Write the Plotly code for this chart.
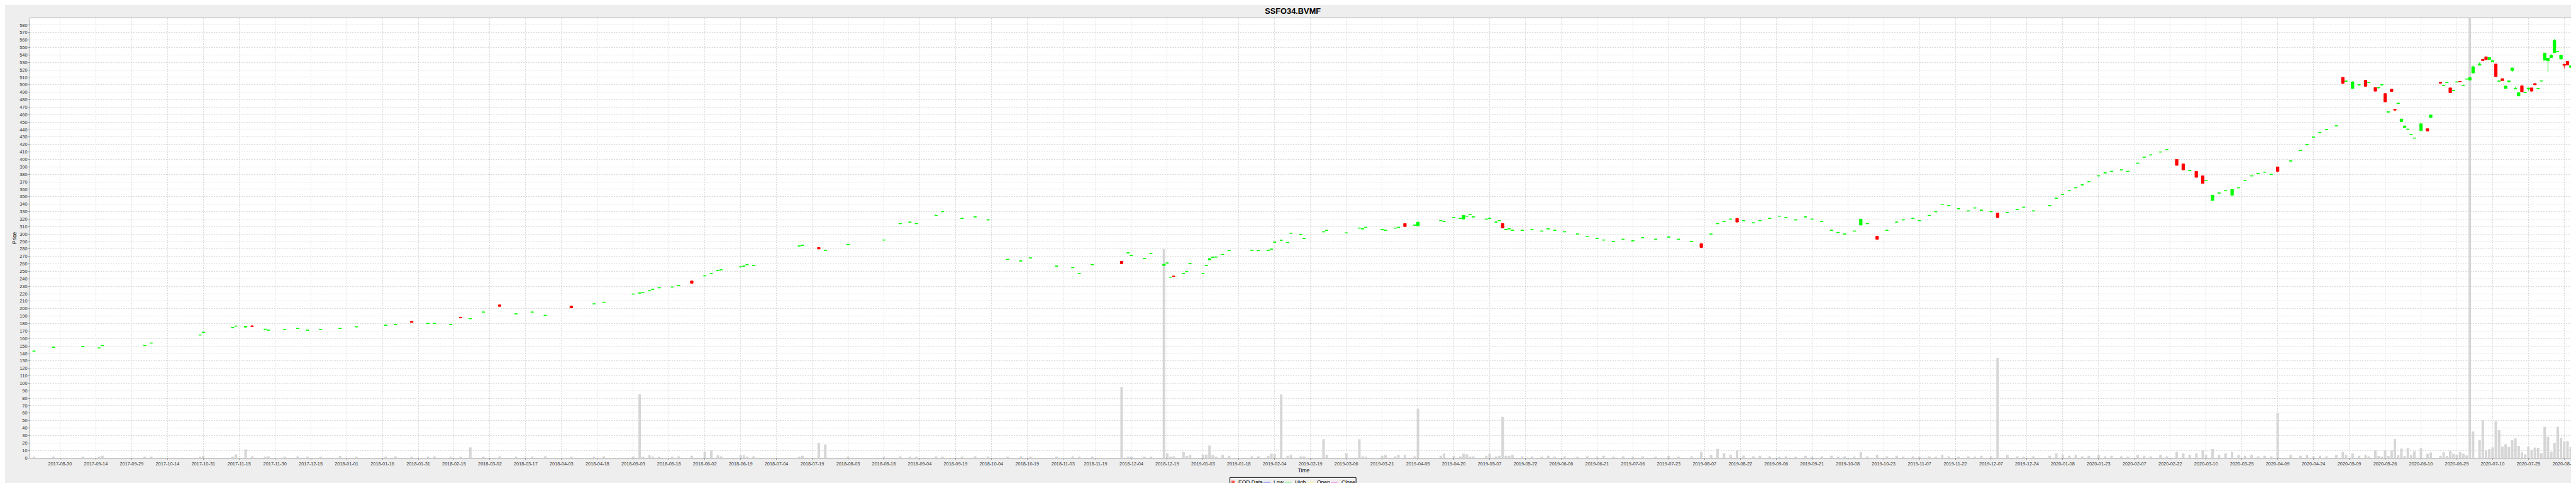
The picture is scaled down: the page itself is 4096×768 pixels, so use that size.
import numpy as np
import plotly.graph_objects as go

BASE = "2017-08-30"

# ---------------- EOD data (one row per trading day) ----------------
dates = [
    "2017-08-18", "2017-08-28", "2017-09-08", "2017-09-15", "2017-09-18", "2017-10-05", "2017-10-09",
    "2017-10-30", "2017-10-31", "2017-11-13", "2017-11-14", "2017-11-17", "2017-11-21", "2017-11-27",
    "2017-11-28", "2017-12-05", "2017-12-11", "2017-12-14", "2017-12-20", "2017-12-28", "2018-01-04",
    "2018-01-17", "2018-01-22", "2018-01-29", "2018-02-05", "2018-02-07", "2018-02-14", "2018-02-19",
    "2018-02-22", "2018-02-28", "2018-03-07", "2018-03-14", "2018-03-21", "2018-03-27", "2018-04-06",
    "2018-04-17", "2018-04-20", "2018-05-03", "2018-05-07", "2018-05-08", "2018-05-10", "2018-05-11",
    "2018-05-15", "2018-05-21", "2018-05-23", "2018-05-29", "2018-06-04", "2018-06-06", "2018-06-08",
    "2018-06-11", "2018-06-19", "2018-06-20", "2018-06-21", "2018-06-25", "2018-07-13", "2018-07-16",
    "2018-07-23", "2018-07-25", "2018-08-03", "2018-08-20", "2018-08-27", "2018-08-30", "2018-09-03",
    "2018-09-11", "2018-09-13", "2018-09-21", "2018-09-27", "2018-10-03", "2018-10-11", "2018-10-17",
    "2018-10-22", "2018-11-01", "2018-11-08", "2018-11-12", "2018-11-16", "2018-11-29", "2018-12-03",
    "2018-12-04", "2018-12-10", "2018-12-12", "2018-12-18", "2018-12-19", "2018-12-20", "2018-12-21",
    "2018-12-26", "2018-12-27", "2018-12-28", "2019-01-03", "2019-01-04", "2019-01-07", "2019-01-08",
    "2019-01-09", "2019-01-11", "2019-01-15", "2019-01-24", "2019-01-28", "2019-01-31", "2019-02-01",
    "2019-02-04", "2019-02-06", "2019-02-08", "2019-02-11", "2019-02-14", "2019-02-15", "2019-02-25",
    "2019-02-26", "2019-03-06", "2019-03-12", "2019-03-13", "2019-03-14", "2019-03-21", "2019-03-22",
    "2019-03-27", "2019-03-28", "2019-04-01", "2019-04-04", "2019-04-05", "2019-04-16", "2019-04-17",
    "2019-04-22", "2019-04-24", "2019-04-25", "2019-04-26", "2019-04-29", "2019-04-30", "2019-05-06",
    "2019-05-07", "2019-05-09", "2019-05-10", "2019-05-13", "2019-05-14", "2019-05-15", "2019-05-16",
    "2019-05-21", "2019-05-24", "2019-05-29", "2019-05-31", "2019-06-04", "2019-06-07", "2019-06-13",
    "2019-06-18", "2019-06-21", "2019-06-25", "2019-06-28", "2019-07-03", "2019-07-08", "2019-07-11",
    "2019-07-17", "2019-07-23", "2019-07-26", "2019-08-01", "2019-08-06", "2019-08-09", "2019-08-13",
    "2019-08-15", "2019-08-19", "2019-08-21", "2019-08-23", "2019-08-28", "2019-08-30", "2019-09-04",
    "2019-09-09", "2019-09-11", "2019-09-16", "2019-09-19", "2019-09-23", "2019-09-26", "2019-10-01",
    "2019-10-03", "2019-10-07", "2019-10-10", "2019-10-14", "2019-10-16", "2019-10-21", "2019-10-24",
    "2019-10-29", "2019-10-31", "2019-11-05", "2019-11-07", "2019-11-12", "2019-11-14", "2019-11-18",
    "2019-11-20", "2019-11-25", "2019-11-28", "2019-12-02", "2019-12-04", "2019-12-09", "2019-12-11",
    "2019-12-16", "2019-12-19", "2019-12-23", "2019-12-26", "2020-01-02", "2020-01-06", "2020-01-08",
    "2020-01-10", "2020-01-14", "2020-01-16", "2020-01-20", "2020-01-23", "2020-01-27", "2020-01-29",
    "2020-02-03", "2020-02-05", "2020-02-10", "2020-02-12", "2020-02-14", "2020-02-19", "2020-02-21",
    "2020-02-26", "2020-02-28", "2020-03-03", "2020-03-05", "2020-03-09", "2020-03-10", "2020-03-12",
    "2020-03-16", "2020-03-18", "2020-03-20", "2020-03-24", "2020-03-26", "2020-03-30", "2020-04-01",
    "2020-04-03", "2020-04-07", "2020-04-09", "2020-04-15", "2020-04-20", "2020-04-22", "2020-04-24",
    "2020-04-28", "2020-04-30", "2020-05-05", "2020-05-07", "2020-05-08", "2020-05-12", "2020-05-14",
    "2020-05-18", "2020-05-19", "2020-05-21", "2020-05-22", "2020-05-25", "2020-05-26", "2020-05-27",
    "2020-05-28", "2020-05-29", "2020-06-01", "2020-06-02", "2020-06-03", "2020-06-04", "2020-06-05",
    "2020-06-08", "2020-06-10", "2020-06-12", "2020-06-15", "2020-06-18", "2020-06-19", "2020-06-22",
    "2020-06-23", "2020-06-24", "2020-06-25", "2020-06-26", "2020-06-29", "2020-06-30", "2020-07-01",
    "2020-07-02", "2020-07-06", "2020-07-07", "2020-07-08", "2020-07-09", "2020-07-10", "2020-07-13",
    "2020-07-14", "2020-07-15", "2020-07-16", "2020-07-17", "2020-07-20", "2020-07-21", "2020-07-22",
    "2020-07-23", "2020-07-24", "2020-07-27", "2020-07-28", "2020-07-29", "2020-07-30", "2020-07-31",
    "2020-08-03", "2020-08-04", "2020-08-05", "2020-08-06", "2020-08-07", "2020-08-10", "2020-08-11",
    "2020-08-12", "2020-08-13",
]
opens = [
    142.8, 148.0, 149.0, 147.0, 150.2, 150.2, 153.6, 164.4, 168.0, 174.3, 176.3, 175.2, 177.0, 172.1,
    171.0, 172.0, 173.1, 170.9, 172.0, 173.1, 175.3, 177.5, 178.6, 183.0, 179.7, 179.8, 178.6, 188.5,
    186.3, 195.1, 205.0, 192.7, 195.1, 190.7, 203.5, 206.1, 208.3, 219.3, 220.7, 221.7, 223.7, 225.7,
    227.7, 228.7, 230.7, 237.0, 243.7, 246.7, 250.7, 251.7, 255.7, 256.7, 258.7, 257.7, 283.7, 284.7,
    282.0, 277.7, 285.7, 291.7, 313.7, 315.7, 313.7, 324.7, 329.7, 320.7, 322.7, 318.7, 265.7, 263.7,
    267.7, 256.7, 254.7, 247.0, 258.7, 263.5, 274.6, 271.1, 267.1, 273.5, 257.8, 261.0, 242.0, 243.7,
    247.0, 249.6, 260.2, 246.6, 257.8, 265.3, 268.6, 268.9, 272.5, 277.5, 278.1, 277.5, 277.9, 279.5,
    288.9, 291.5, 288.5, 300.9, 298.9, 293.7, 302.7, 304.7, 301.3, 307.7, 306.7, 308.7, 305.7, 304.7,
    307.7, 308.7, 314.0, 311.7, 311.0, 317.7, 316.7, 321.7, 320.7, 320.0, 323.7, 325.7, 322.7, 319.7,
    320.7, 315.7, 317.7, 314.0, 305.7, 306.7, 304.7, 304.7, 305.7, 303.7, 306.7, 304.7, 302.7, 299.7,
    296.7, 293.7, 291.7, 289.7, 292.7, 290.7, 294.7, 292.7, 295.7, 292.7, 289.7, 287.0, 299.7, 313.7,
    316.7, 319.7, 321.0, 317.7, 314.7, 317.7, 320.7, 323.7, 321.7, 318.7, 322.7, 319.7, 316.7, 304.7,
    301.7, 299.7, 303.7, 312.0, 313.7, 297.0, 304.7, 315.7, 318.7, 320.7, 317.7, 324.7, 329.7, 339.7,
    337.7, 333.7, 330.7, 334.7, 331.7, 329.7, 328.0, 328.7, 332.7, 335.7, 330.7, 337.7, 347.7, 352.7,
    357.7, 361.7, 365.7, 369.7, 377.7, 381.7, 383.7, 385.7, 383.7, 394.7, 402.7, 405.7, 409.7, 412.7,
    400.0, 394.0, 384.7, 384.0, 378.0, 371.7, 345.0, 354.7, 357.7, 352.0, 361.7, 371.7, 377.7, 380.7,
    382.7, 379.7, 390.0, 397.7, 411.7, 419.7, 429.7, 435.7, 439.7, 444.7, 510.0, 504.7, 495.0, 499.7,
    506.0, 502.7, 496.4, 495.7, 499.7, 488.2, 463.2, 494.2, 467.1, 474.7, 450.7, 442.7, 440.2, 433.2,
    428.3, 438.5, 441.1, 456.1, 503.4, 498.7, 502.7, 495.8, 492.1, 503.5, 504.6, 499.1, 507.5, 506.4,
    515.8, 526.2, 534.1, 537.5, 533.7, 530.9, 527.8, 504.7, 508.2, 495.0, 503.9, 519.0, 494.3, 485.0,
    498.8, 489.3, 494.4, 495.8, 501.6, 494.7, 504.9, 532.9, 532.2, 536.5, 543.0, 544.2, 534.5, 527.6,
    531.4, 523.4,
]
highs = [
    143.4, 148.6, 149.6, 147.6, 150.8, 150.8, 154.2, 165.0, 168.6, 174.9, 176.9, 176.4, 177.2, 172.7,
    171.6, 172.6, 173.7, 171.5, 172.6, 173.7, 175.9, 178.1, 179.2, 183.3, 180.3, 180.4, 179.2, 188.8,
    186.9, 195.7, 205.3, 193.3, 195.7, 191.3, 203.8, 206.7, 208.9, 219.9, 221.3, 222.3, 224.3, 226.3,
    228.3, 229.3, 231.3, 237.3, 244.3, 247.3, 251.3, 252.3, 256.3, 257.3, 259.3, 258.3, 284.3, 285.3,
    282.3, 278.3, 286.3, 292.3, 314.3, 316.3, 314.3, 325.3, 330.3, 321.3, 323.3, 319.3, 266.3, 264.3,
    268.3, 257.3, 255.3, 247.6, 259.3, 263.8, 275.2, 271.7, 267.7, 274.1, 259.8, 261.6, 242.6, 244.0,
    247.6, 250.2, 260.8, 247.2, 258.4, 267.4, 269.2, 269.5, 273.1, 278.1, 278.7, 278.1, 278.5, 280.1,
    289.5, 292.1, 289.1, 301.5, 299.5, 294.3, 303.3, 305.3, 301.9, 308.3, 307.3, 309.3, 306.3, 305.3,
    308.3, 309.3, 314.3, 312.3, 316.3, 318.3, 317.3, 322.3, 321.3, 325.3, 324.3, 326.3, 323.3, 320.3,
    321.3, 316.3, 318.3, 314.3, 306.3, 307.3, 305.3, 305.3, 306.3, 304.3, 307.3, 305.3, 303.3, 300.3,
    297.3, 294.3, 292.3, 290.3, 293.3, 291.3, 295.3, 293.3, 296.3, 293.3, 290.3, 287.3, 300.3, 314.3,
    317.3, 320.3, 321.3, 318.3, 315.3, 318.3, 321.3, 324.3, 322.3, 319.3, 323.3, 320.3, 317.3, 305.3,
    302.3, 300.3, 304.3, 320.3, 314.3, 297.3, 305.3, 316.3, 319.3, 321.3, 318.3, 325.3, 330.3, 340.3,
    338.3, 334.3, 331.3, 335.3, 332.3, 330.3, 328.3, 329.3, 333.3, 336.3, 331.3, 338.3, 348.3, 353.3,
    358.3, 362.3, 366.3, 370.3, 378.3, 382.3, 384.3, 386.3, 384.3, 395.3, 403.3, 406.3, 410.3, 413.3,
    400.3, 394.3, 385.3, 384.3, 378.3, 372.3, 352.3, 355.3, 358.3, 360.3, 362.3, 372.3, 378.3, 381.3,
    383.3, 380.3, 390.3, 398.3, 412.3, 420.3, 430.3, 436.3, 440.3, 445.3, 510.3, 505.3, 504.3, 500.3,
    506.3, 503.3, 496.6, 496.5, 500.5, 488.4, 464.0, 494.4, 467.3, 475.5, 454.3, 444.9, 440.8, 433.8,
    428.9, 447.9, 441.3, 459.7, 503.6, 499.5, 503.5, 496.0, 492.7, 504.1, 504.8, 499.7, 508.1, 510.4,
    526.0, 530.0, 534.3, 537.7, 536.7, 532.7, 528.0, 505.3, 508.4, 498.6, 505.5, 522.8, 497.6, 489.8,
    499.0, 489.9, 495.8, 496.0, 501.8, 495.3, 505.5, 542.7, 536.5, 541.0, 561.5, 544.8, 540.1, 527.8,
    531.6, 525.6,
]
lows = [
    142.6, 147.8, 148.8, 146.8, 150.0, 150.0, 153.4, 164.2, 167.8, 174.1, 176.1, 175.0, 175.9, 171.9,
    170.8, 171.8, 172.9, 170.7, 171.8, 172.9, 175.1, 177.3, 178.4, 181.2, 179.5, 179.6, 178.4, 187.2,
    186.1, 194.9, 202.7, 192.5, 194.9, 190.5, 200.7, 205.9, 208.1, 219.1, 220.5, 221.5, 223.5, 225.5,
    227.5, 228.5, 230.5, 233.7, 243.5, 246.5, 250.5, 251.5, 255.5, 256.5, 258.5, 257.5, 283.5, 284.5,
    279.7, 277.5, 285.5, 291.5, 313.5, 315.5, 313.5, 324.5, 329.5, 320.5, 322.5, 318.5, 265.5, 263.5,
    267.5, 256.5, 254.5, 246.8, 258.5, 260.0, 274.4, 270.9, 266.9, 273.3, 257.6, 260.8, 241.8, 242.9,
    246.8, 249.4, 260.0, 246.4, 257.6, 265.1, 268.4, 268.7, 272.3, 277.3, 277.9, 277.3, 277.7, 279.3,
    288.7, 291.3, 288.3, 300.7, 298.7, 293.5, 302.5, 304.5, 301.1, 307.5, 306.5, 308.5, 305.5, 304.5,
    307.5, 308.5, 309.7, 311.5, 310.8, 317.5, 316.5, 321.5, 320.5, 319.8, 323.5, 325.5, 322.5, 319.5,
    320.5, 315.5, 317.5, 307.7, 305.5, 306.5, 304.5, 304.5, 305.5, 303.5, 306.5, 304.5, 302.5, 299.5,
    296.5, 293.5, 291.5, 289.5, 292.5, 290.5, 294.5, 292.5, 295.5, 292.5, 289.5, 281.7, 299.5, 313.5,
    316.5, 319.5, 315.7, 317.5, 314.5, 317.5, 320.5, 323.5, 321.5, 318.5, 322.5, 319.5, 316.5, 304.5,
    301.5, 299.5, 303.5, 311.8, 313.5, 292.7, 304.5, 315.5, 318.5, 320.5, 317.5, 324.5, 329.5, 339.5,
    337.5, 333.5, 330.5, 334.5, 331.5, 329.5, 321.7, 328.5, 332.5, 335.5, 330.5, 337.5, 347.5, 352.5,
    357.5, 361.5, 365.5, 369.5, 377.5, 381.5, 383.5, 385.5, 383.5, 394.5, 402.5, 405.5, 409.5, 412.5,
    391.7, 385.7, 384.5, 375.7, 367.7, 371.5, 344.8, 354.5, 357.5, 351.8, 361.5, 371.5, 377.5, 380.5,
    382.5, 379.5, 383.7, 397.5, 411.5, 419.5, 429.5, 435.5, 439.5, 444.5, 501.7, 504.5, 494.8, 499.5,
    497.7, 502.5, 491.2, 495.5, 499.5, 476.9, 463.0, 490.8, 464.7, 474.5, 450.5, 442.5, 440.0, 433.0,
    428.1, 438.3, 437.9, 455.9, 502.0, 498.5, 502.5, 489.2, 491.9, 503.3, 504.0, 498.9, 507.3, 505.8,
    515.6, 526.0, 532.3, 533.5, 533.5, 530.7, 510.8, 504.5, 505.4, 494.8, 503.7, 517.0, 494.1, 484.8,
    490.4, 489.1, 492.0, 491.2, 499.8, 494.5, 504.7, 532.7, 517.0, 536.3, 542.8, 544.0, 534.3, 522.0,
    526.4, 523.2,
]
closes = [
    143.2, 148.4, 149.4, 147.4, 150.6, 150.6, 154.0, 164.8, 168.4, 174.7, 176.7, 176.2, 176.1, 172.5,
    171.4, 172.4, 173.5, 171.3, 172.4, 173.5, 175.7, 177.9, 179.0, 181.5, 180.1, 180.2, 179.0, 187.5,
    186.7, 195.5, 203.0, 193.1, 195.5, 191.1, 201.0, 206.5, 208.7, 219.7, 221.1, 222.1, 224.1, 226.1,
    228.1, 229.1, 231.1, 234.0, 244.1, 247.1, 251.1, 252.1, 256.1, 257.1, 259.1, 258.1, 284.1, 285.1,
    280.0, 278.1, 286.1, 292.1, 314.1, 316.1, 314.1, 325.1, 330.1, 321.1, 323.1, 319.1, 266.1, 264.1,
    268.1, 257.1, 255.1, 247.4, 259.1, 260.2, 274.9, 271.4, 267.4, 273.8, 259.5, 261.3, 242.3, 243.1,
    247.3, 249.9, 260.5, 246.9, 258.1, 267.1, 268.9, 269.2, 272.8, 277.8, 278.4, 277.8, 278.2, 279.8,
    289.2, 291.8, 288.8, 301.2, 299.2, 294.0, 303.0, 305.0, 301.6, 308.1, 307.1, 309.1, 306.1, 305.1,
    308.1, 309.1, 310.0, 312.1, 316.0, 318.1, 317.1, 322.1, 321.1, 325.0, 324.1, 326.1, 323.1, 320.1,
    321.1, 316.1, 318.1, 308.0, 306.1, 307.1, 305.1, 305.1, 306.1, 304.1, 307.1, 305.1, 303.1, 300.1,
    297.1, 294.1, 292.1, 290.1, 293.1, 291.1, 295.1, 293.1, 296.1, 293.1, 290.1, 282.0, 300.1, 314.1,
    317.1, 320.1, 316.0, 318.1, 315.1, 318.1, 321.1, 324.1, 322.1, 319.1, 323.1, 320.1, 317.1, 305.1,
    302.1, 300.1, 304.1, 320.0, 314.1, 293.0, 305.1, 316.1, 319.1, 321.1, 318.1, 325.1, 330.1, 340.1,
    338.1, 334.1, 331.1, 335.1, 332.1, 330.1, 322.0, 329.1, 333.1, 336.1, 331.1, 338.1, 348.1, 353.1,
    358.1, 362.1, 366.1, 370.1, 378.1, 382.1, 384.1, 386.1, 384.1, 395.1, 403.1, 406.1, 410.1, 413.1,
    392.0, 386.0, 385.1, 376.0, 368.0, 372.1, 352.0, 355.1, 358.1, 360.0, 362.1, 372.1, 378.1, 381.1,
    383.1, 380.1, 384.0, 398.1, 412.1, 420.1, 430.1, 436.1, 440.1, 445.1, 502.0, 505.1, 504.0, 500.1,
    498.0, 503.1, 491.4, 496.3, 500.3, 477.1, 463.8, 491.0, 466.1, 475.3, 454.1, 444.9, 440.6, 433.6,
    428.7, 447.7, 438.1, 459.5, 502.2, 499.3, 503.3, 489.4, 492.5, 503.9, 504.2, 499.5, 507.9, 509.8,
    524.2, 527.8, 532.5, 533.7, 536.5, 532.5, 511.0, 505.1, 505.6, 498.4, 505.3, 522.6, 494.9, 489.6,
    490.6, 489.7, 495.6, 491.4, 500.0, 495.1, 505.3, 542.5, 535.7, 539.7, 559.3, 544.6, 539.9, 526.0,
    526.6, 525.4,
]
volumes = [
    1.2, 1.2, 1.2, 1.2, 2.8, 1.2, 1.2, 1.2, 2.8, 1.2, 4.6, 11.4, 2.0, 1.2,
    2.0, 1.2, 2.0, 1.2, 1.2, 2.4, 1.2, 1.2, 2.0, 1.2, 1.2, 2.0, 1.2, 1.2,
    14.0, 1.2, 2.0, 1.2, 1.2, 2.0, 1.2, 1.2, 2.0, 1.2, 85.0, 1.0, 3.6, 1.2,
    1.0, 1.0, 2.0, 2.8, 8.0, 10.0, 3.6, 2.0, 3.6, 3.6, 1.6, 2.0, 1.0, 2.8,
    20.0, 18.0, 1.0, 1.2, 2.0, 1.2, 1.2, 2.0, 1.2, 1.2, 2.0, 1.2, 1.2, 2.0,
    1.2, 1.2, 2.0, 1.2, 1.2, 95.0, 1.2, 1.2, 1.2, 1.2, 280.0, 6.0, 1.0, 2.0,
    8.0, 2.6, 4.0, 4.4, 4.4, 16.5, 4.0, 1.2, 4.0, 2.8, 2.0, 2.0, 2.8, 5.6,
    4.8, 85.0, 2.8, 4.0, 2.0, 2.0, 25.0, 4.0, 6.4, 25.0, 2.0, 1.2, 2.8, 4.0,
    2.0, 4.0, 4.0, 2.0, 66.0, 2.8, 5.6, 2.8, 2.0, 5.6, 4.8, 1.2, 2.0, 2.8,
    5.6, 2.0, 2.8, 55.0, 2.8, 2.8, 4.0, 2.0, 2.0, 1.2, 2.8, 1.2, 2.0, 1.2,
    2.0, 1.2, 2.8, 1.2, 2.0, 1.2, 2.0, 1.2, 2.8, 1.2, 2.0, 8.0, 4.0, 12.0,
    6.0, 4.0, 10.0, 3.0, 2.0, 2.8, 2.0, 1.2, 2.0, 1.2, 2.8, 1.2, 2.0, 2.8,
    1.2, 2.0, 1.2, 8.0, 2.0, 4.0, 2.0, 2.8, 1.2, 2.0, 1.2, 2.0, 1.2, 4.0,
    2.0, 1.2, 2.0, 1.2, 2.8, 2.0, 134.0, 4.0, 2.0, 1.2, 2.0, 2.8, 6.0, 4.0,
    2.8, 4.0, 2.0, 2.8, 4.0, 2.0, 2.8, 2.0, 1.2, 4.0, 2.8, 2.0, 4.0, 2.0,
    8.0, 6.0, 4.0, 6.0, 10.0, 4.0, 12.0, 4.0, 6.0, 8.0, 4.0, 2.8, 4.0, 2.0,
    2.8, 2.0, 60.0, 4.0, 2.8, 4.0, 2.0, 2.8, 2.0, 4.0, 8.0, 4.0, 6.0, 2.8,
    4.0, 2.0, 10.0, 2.6, 1.0, 10.0, 2.4, 9.8, 25.1, 3.6, 12.4, 2.4, 13.2, 3.6,
    8.8, 13.2, 5.4, 7.2, 2.8, 7.4, 2.6, 9.2, 5.4, 4.2, 8.0, 5.6, 3.2, 620.0,
    35.3, 23.6, 50.3, 10.4, 11.6, 14.0, 49.1, 37.1, 15.2, 18.2, 14.6, 23.6, 26.3, 16.0,
    7.4, 4.8, 15.0, 10.8, 13.8, 13.4, 6.2, 41.5, 28.1, 8.0, 20.0, 41.5, 27.1, 21.8,
    22.4, 14.4,
]

# ---------------- axis labels ----------------
tick_labels = [
    "2017-08-30", "2017-09-14", "2017-09-29", "2017-10-14", "2017-10-31", "2017-11-15", "2017-11-30",
    "2017-12-15", "2018-01-01", "2018-01-16", "2018-01-31", "2018-02-15", "2018-03-02", "2018-03-17",
    "2018-04-03", "2018-04-18", "2018-05-03", "2018-05-18", "2018-06-02", "2018-06-19", "2018-07-04",
    "2018-07-19", "2018-08-03", "2018-08-18", "2018-09-04", "2018-09-19", "2018-10-04", "2018-10-19",
    "2018-11-03", "2018-11-19", "2018-12-04", "2018-12-19", "2019-01-03", "2019-01-18", "2019-02-04",
    "2019-02-19", "2019-03-06", "2019-03-21", "2019-04-05", "2019-04-20", "2019-05-07", "2019-05-22",
    "2019-06-06", "2019-06-21", "2019-07-06", "2019-07-23", "2019-08-07", "2019-08-22", "2019-09-06",
    "2019-09-21", "2019-10-08", "2019-10-23", "2019-11-07", "2019-11-22", "2019-12-07", "2019-12-24",
    "2020-01-08", "2020-01-23", "2020-02-07", "2020-02-22", "2020-03-10", "2020-03-25", "2020-04-09",
    "2020-04-24", "2020-05-09", "2020-05-26", "2020-06-10", "2020-06-25", "2020-07-10", "2020-07-25",
    "2020-08-11",
]

TITLE = "SSFO34.BVMF"
X_TITLE = "Time"
Y_TITLE = "Price"


def bidx(ds):
    """Position of each date on a Monday-to-Friday time line."""
    return np.busday_count(BASE, np.array(ds, dtype="datetime64[D]")).astype(float)


cx = bidx(dates)
tx = bidx(tick_labels)

# ---------------- layout geometry (reference px * S) ----------------
S = 0.711
W, H = 4096, 768
ML, MR, MT, MB = 40, 6, 21, 48
PW = W - ML - MR
PH = H - MT - MB


def px(xr):
    return (xr * S - ML) / PW


def py(yr):
    return (H - MB - yr * S) / PH


FONT = "Liberation Sans, Arial, Helvetica, sans-serif"

fig = go.Figure()
fig.add_trace(go.Bar(
    x=cx, y=volumes, width=0.78,
    marker=dict(color="#D6D6D6", line=dict(width=0)),
    showlegend=False, hoverinfo="skip", name="Volume",
))
fig.add_trace(go.Candlestick(
    x=cx, open=opens, high=highs, low=lows, close=closes,
    increasing=dict(line=dict(color="#00FF00", width=1), fillcolor="#00FF00"),
    decreasing=dict(line=dict(color="#FF0000", width=1), fillcolor="#FF0000"),
    whiskerwidth=0, showlegend=False, name="EOD Data",
))

grid = dict(showgrid=True, gridcolor="#D9D9D9", gridwidth=1, griddash="2px,2px")
fig.update_layout(
    width=W, height=H, autosize=False,
    margin=dict(l=ML, r=MR, t=MT, b=MB, pad=0),
    paper_bgcolor="#EEEEEE", plot_bgcolor="#FFFFFF",
    boxgap=0.1, boxgroupgap=0.1,
    title=dict(text="<b>" + TITLE + "</b>", x=2880 * S / W, xanchor="center",
               y=1 - 13.3 * S / H, yanchor="middle", yref="container",
               font=dict(family=FONT, size=18 * S, color="#000000")),
    xaxis=dict(
        range=[-9.16, 773.0], tickmode="array", tickvals=tx, ticktext=tick_labels,
        ticks="outside", ticklen=2, tickwidth=1, tickcolor="#999999",
        tickfont=dict(family=FONT, size=10.4 * S, color="#333333"),
        showline=True, linecolor="#A0A0A0", linewidth=1, mirror=True, zeroline=False,
        rangeslider=dict(visible=False),
        title=dict(text=X_TITLE, font=dict(family=FONT, size=12 * S, color="#000000"), standoff=4),
        **grid,
    ),
    yaxis=dict(
        range=[0, 589.2], tick0=0, dtick=10,
        ticks="outside", ticklen=2, tickwidth=1, tickcolor="#999999",
        tickfont=dict(family=FONT, size=10.4 * S, color="#333333"),
        showline=True, linecolor="#A0A0A0", linewidth=1, mirror=True, zeroline=False,
        title=dict(text=Y_TITLE, font=dict(family=FONT, size=12 * S, color="#000000"), standoff=3),
        **grid,
    ),
    showlegend=False,
)

# ---------------- legend (drawn in paper coordinates) ----------------
shapes = [dict(type="rect", xref="paper", yref="paper",
               x0=px(2739.3), x1=px(3021.3), y0=py(1078.3), y1=py(1056.7),
               line=dict(color="#000000", width=1), fillcolor="rgba(0,0,0,0)")]
shapes.append(dict(type="rect", xref="paper", yref="paper",
                   x0=px(2742.7), x1=px(2750.0), y0=py(1071.0), y1=py(1063.7),
                   line=dict(width=0), fillcolor="#FF5555"))
legend_lines = [("Low", "#5555FF", 2814.3, 2830.0, 2834.3),
                ("High", "#55FF55", 2861.7, 2877.3, 2881.7),
                ("Open", "#FFFF55", 2912.7, 2927.7, 2931.7),
                ("Close", "#FF55FF", 2965.0, 2981.0, 2985.7)]
annotations = [dict(text="EOD Data", xref="paper", yref="paper", x=px(2755.3), y=py(1067.3),
                    xanchor="left", yanchor="middle", showarrow=False,
                    font=dict(family=FONT, size=12 * S, color="#000000"))]
for name, col, x0, x1, xt in legend_lines:
    shapes.append(dict(type="line", xref="paper", yref="paper", x0=px(x0), x1=px(x1),
                       y0=py(1067.3), y1=py(1067.3), line=dict(color=col, width=1)))
    annotations.append(dict(text=name, xref="paper", yref="paper", x=px(xt), y=py(1067.3),
                            xanchor="left", yanchor="middle", showarrow=False,
                            font=dict(family=FONT, size=12 * S, color="#000000")))
fig.update_layout(shapes=shapes, annotations=annotations)

fig.write_html("out.html")
